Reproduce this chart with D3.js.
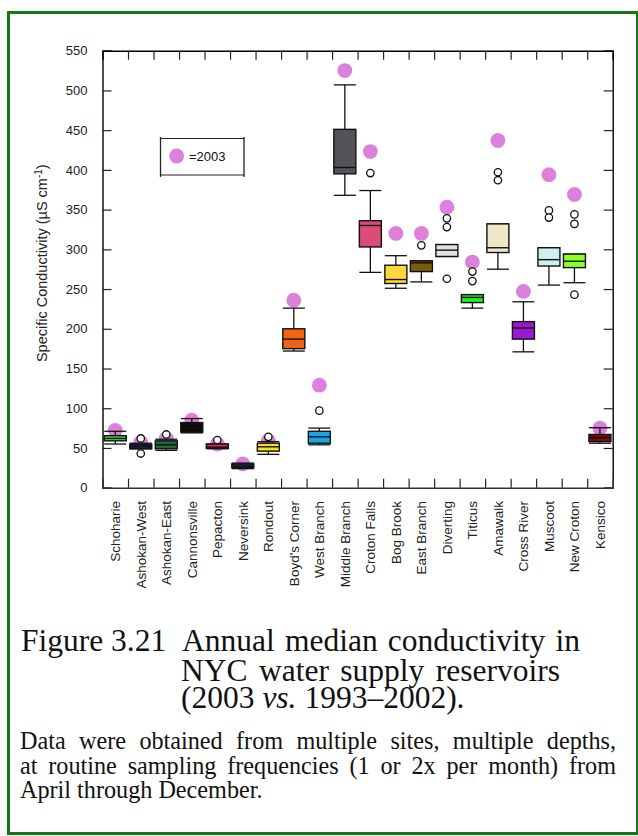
<!DOCTYPE html>
<html>
<head>
<meta charset="utf-8">
<script src="https://cdn.jsdelivr.net/npm/d3@7/dist/d3.min.js"></script>
<style>
  html, body { margin: 0; padding: 0; background: #fff; }
  svg { display: block; }
</style>
</head>
<body>
<svg id="chart" width="638" height="836"></svg>
<script>
// Reservoirs, west of Hudson first, then the Croton system and Kensico
const reservoirs = ["Schoharie", "Ashokan-West", "Ashokan-East", "Cannonsville", "Pepacton",
  "Neversink", "Rondout", "Boyd's Corner", "West Branch", "Middle Branch", "Croton Falls",
  "Bog Brook", "East Branch", "Diverting", "Titicus", "Amawalk", "Cross River", "Muscoot",
  "New Croton", "Kensico"];

// 1993–2002 annual medians: whisker ends, quartiles and median (µS/cm)
const whiskerLow  = [55, 49, 47, 69, 49, 24, 42, 172, 54, 368, 271, 251, 259, 291, 226, 275, 171, 255, 258, 56];
const quartile1   = [59, 49, 49, 70, 49.5, 25, 46, 175, 56, 395, 303, 257, 272, 291, 233, 296, 187, 279, 277, 58];
const medians     = [62, 52, 54, 75, 51, 27, 51.5, 187, 64, 403, 330, 262, 283, 299, 239.5, 302, 201, 287, 285, 63];
const quartile3   = [65.5, 55, 59, 82, 55, 30, 56, 200, 71, 451, 336, 280, 285.5, 306, 243, 332, 209, 302, 294, 67];
const whiskerHigh = [71, 56, 61, 87, 55, 31, 58, 226, 75, 507, 374, 292, 285.5, 306, 243, 332, 234, 302, 294, 75.5];

// Outlying years
const outliers = [[], [62, 43], [67], [], [60], [], [64], [], [97], [], [396], [], [305],
  [339, 328, 263], [272, 260], [397, 387], [], [349, 340], [344, 332, 243], []];

// 2003 annual median
const values2003 = [72, 57, 62, 85, 55, 30, 59, 236, 129, 525, 423, 320, 320, 353, 284, 437, 247, 394, 369, 75];

const boxColors = ["#35e035", "#1c1f52", "#22683a", "#0a0a0a", "#e2205e", "#0c3a3c", "#f2e018",
  "#f26414", "#1aa6e6", "#545458", "#dc4c78", "#fdd838", "#7a5c10", "#e2e2e2", "#22ee22",
  "#efe8c8", "#9a18d2", "#cfeeec", "#8aff2a", "#7a0c0c"];

const yTicks = [0, 50, 100, 150, 200, 250, 300, 350, 400, 450, 500, 550];

const svg = d3.select("#chart");
const plot = { left: 102.5, right: 612.7, top: 50.7, bottom: 487.7 };

// page frame
svg.append("rect")
  .attr("x", 8.5).attr("y", 12.5).attr("width", 629).attr("height", 821)
  .attr("fill", "none").attr("stroke", "#107a10").attr("stroke-width", 3);

const x = d3.scaleBand().domain(reservoirs).range([plot.left, plot.right]).padding(0);
const y = d3.scaleLinear().domain([0, 550]).range([plot.bottom, plot.top]);
const bw = 22;

const g = svg.append("g");

// left axis with labels, ticks pointing inward
const leftAxis = d3.axisLeft(y).tickValues(yTicks).tickSize(-9).tickPadding(15);
const la = g.append("g").attr("transform", `translate(${plot.left},0)`).call(leftAxis);
la.select(".domain").attr("stroke", "#000").attr("stroke-width", 1.4);
la.selectAll(".tick line").attr("stroke", "#222").attr("stroke-width", 1.2);
la.selectAll(".tick text").attr("font-family", "Liberation Sans, Arial, sans-serif")
  .attr("font-size", 13).attr("fill", "#222");

// right axis: ticks only
const rightAxis = d3.axisRight(y).tickValues(yTicks).tickSize(-9).tickFormat("");
const ra = g.append("g").attr("transform", `translate(${plot.right},0)`).call(rightAxis);
ra.select(".domain").attr("stroke", "#000").attr("stroke-width", 1.4);
ra.selectAll(".tick line").attr("stroke", "#222").attr("stroke-width", 1.2);

// category boundaries on top and bottom
const bounds = d3.range(1, reservoirs.length).map(i => x(reservoirs[i]));
const xb = d3.scaleLinear().domain([plot.left, plot.right]).range([plot.left, plot.right]);
const bottomAxis = d3.axisBottom(xb).tickValues(bounds).tickSize(-9).tickFormat("");
const ba = g.append("g").attr("transform", `translate(0,${plot.bottom})`).call(bottomAxis);
ba.select(".domain").attr("stroke", "#333").attr("stroke-width", 1.4);
ba.selectAll(".tick line").attr("stroke", "#222").attr("stroke-width", 1.2);
const topAxis = d3.axisTop(xb).tickValues(bounds).tickSize(-9).tickFormat("");
const ta = g.append("g").attr("transform", `translate(0,${plot.top})`).call(topAxis);
ta.select(".domain").attr("stroke", "#000").attr("stroke-width", 1.4);
ta.selectAll(".tick line").attr("stroke", "#222").attr("stroke-width", 1.2);

// category labels, rotated
g.selectAll("text.cat").data(reservoirs).join("text")
  .attr("class", "cat")
  .attr("transform", d => `translate(${x(d) + x.bandwidth() / 2 + 5},501) rotate(-90)`)
  .attr("text-anchor", "end")
  .attr("font-family", "Liberation Sans, Arial, sans-serif")
  .attr("font-size", 13.5).attr("fill", "#222")
  .text(d => d);

// axis title
svg.append("text")
  .attr("transform", `translate(47,${(plot.top + plot.bottom) / 2 - 6}) rotate(-90)`)
  .attr("text-anchor", "middle")
  .attr("font-family", "Liberation Sans, Arial, sans-serif")
  .attr("font-size", 14.5).attr("fill", "#222")
  .text("Specific Conductivity (µS cm")
  .append("tspan").attr("baseline-shift", "super").attr("font-size", 10).text("-1")
  .select(function () { return this.parentNode; })
  .append("tspan").text(")");

const cx = d => x(d) + x.bandwidth() / 2;
const dotColor = "#dc80dc";

// 2003 medians behind the boxes
g.selectAll("circle.y2003").data(reservoirs).join("circle")
  .attr("class", "y2003")
  .attr("cx", cx).attr("cy", (d, i) => y(values2003[i]))
  .attr("r", 7.4).attr("fill", dotColor);

// whiskers
const wg = g.append("g").attr("stroke", "#111").attr("stroke-width", 1.3);
reservoirs.forEach((d, i) => {
  const c = cx(d);
  wg.append("line").attr("x1", c).attr("x2", c)
    .attr("y1", y(whiskerLow[i])).attr("y2", y(whiskerHigh[i]));
  wg.append("line").attr("x1", c - bw / 2).attr("x2", c + bw / 2)
    .attr("y1", y(whiskerLow[i])).attr("y2", y(whiskerLow[i]));
  wg.append("line").attr("x1", c - bw / 2).attr("x2", c + bw / 2)
    .attr("y1", y(whiskerHigh[i])).attr("y2", y(whiskerHigh[i]));
});

// boxes with median line
const bg = g.append("g");
reservoirs.forEach((d, i) => {
  const c = cx(d);
  bg.append("rect")
    .attr("x", c - bw / 2).attr("width", bw)
    .attr("y", y(quartile3[i])).attr("height", y(quartile1[i]) - y(quartile3[i]))
    .attr("fill", boxColors[i]).attr("stroke", "#111").attr("stroke-width", 1.4);
  bg.append("line").attr("x1", c - bw / 2).attr("x2", c + bw / 2)
    .attr("y1", y(medians[i])).attr("y2", y(medians[i]))
    .attr("stroke", "#111").attr("stroke-width", 1.4);
});

// outlying years
const og = g.append("g");
reservoirs.forEach((d, i) => {
  outliers[i].forEach(v => {
    og.append("circle").attr("cx", cx(d)).attr("cy", y(v)).attr("r", 3.7)
      .attr("fill", "#fff").attr("stroke", "#111").attr("stroke-width", 1.3);
  });
});

// legend
const lg = svg.append("g");
lg.append("line").attr("x1", 160).attr("x2", 244.5).attr("y1", 138.5).attr("y2", 138.5).attr("stroke", "#222").attr("stroke-width", 1.2);
lg.append("line").attr("x1", 160).attr("x2", 244.5).attr("y1", 175).attr("y2", 175).attr("stroke", "#222").attr("stroke-width", 1.2);
lg.append("line").attr("x1", 160.5).attr("x2", 160.5).attr("y1", 137).attr("y2", 177).attr("stroke", "#222").attr("stroke-width", 1.3);
lg.append("line").attr("x1", 244).attr("x2", 244).attr("y1", 137).attr("y2", 177).attr("stroke", "#222").attr("stroke-width", 1.3);
lg.append("circle").attr("cx", 176.7).attr("cy", 156).attr("r", 7.4).attr("fill", dotColor);
lg.append("text").attr("x", 189).attr("y", 161)
  .attr("font-family", "Liberation Sans, Arial, sans-serif").attr("font-size", 13).attr("fill", "#111")
  .text("=2003");

// stretch a line of text to a given right edge by widening its word gaps
function justify(sel, right) {
  const node = sel.node();
  const natural = node.getComputedTextLength();
  const gaps = (sel.text().match(/ /g) || []).length;
  const left = +sel.attr("x");
  if (gaps > 0 && right - left > natural) {
    sel.attr("word-spacing", ((right - left - natural) / gaps).toFixed(2));
  }
}

// caption
const serif = "Liberation Serif, Times New Roman, serif";
const cap = svg.append("g").attr("font-family", serif).attr("fill", "#111").attr("font-size", 31.5);
cap.append("text").attr("x", 21).attr("y", 651).text("Figure 3.21");
justify(cap.append("text").attr("x", 182).attr("y", 651).text("Annual median conductivity in"), 580);
justify(cap.append("text").attr("x", 181).attr("y", 681).text("NYC water supply reservoirs"), 560);
const l3 = cap.append("text").attr("x", 181).attr("y", 708);
l3.append("tspan").text("(2003 ");
l3.append("tspan").attr("font-style", "italic").text("vs.");
l3.append("tspan").text(" 1993–2002).");

// note, justified except for its last line
const para = svg.append("g").attr("font-family", serif).attr("fill", "#111").attr("font-size", 24.2);
const noteLines = ["Data were obtained from multiple sites, multiple depths,",
  "at routine sampling frequencies (1 or 2x per month) from",
  "April through December."];
noteLines.forEach((t, i) => {
  const tx = para.append("text").attr("x", 20).attr("y", 749 + i * 24.5).text(t);
  if (i < noteLines.length - 1) justify(tx, 616);
});
</script>
</body>
</html>
